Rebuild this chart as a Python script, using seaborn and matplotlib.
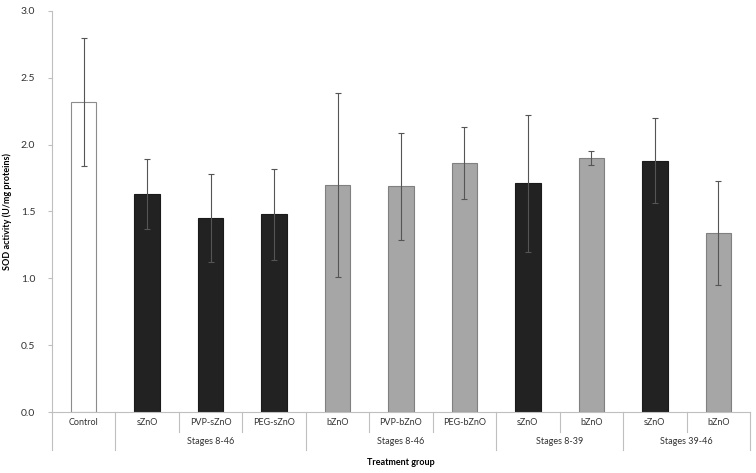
import numpy as np
import pandas as pd
import matplotlib
matplotlib.use("Agg")
import matplotlib.pyplot as plt
import seaborn as sns
from matplotlib.transforms import blended_transform_factory

# data
categories = ["Control", "sZnO", "PVP-sZnO", "PEG-sZnO", "bZnO", "PVP-bZnO",
              "PEG-bZnO", "sZnO", "bZnO", "sZnO", "bZnO"]
group_names = ["Stages 8-46", "Stages 8-46", "Stages 8-39", "Stages 39-46"]
group_spans = [(1, 3), (4, 6), (7, 8), (9, 10)]
sod_mean = [2.32, 1.63, 1.45, 1.48, 1.70, 1.69, 1.86, 1.71, 1.90, 1.88, 1.34]
sod_err = [0.48, 0.26, 0.33, 0.34, 0.69, 0.40, 0.27, 0.51, 0.05, 0.32, 0.39]
particle = ["control", "s", "s", "s", "b", "b", "b", "s", "b", "s", "b"]

fill = {"control": "#ffffff", "s": "#222222", "b": "#a6a6a6"}
edge = {"control": "#8c8c8c", "s": "#1a1a1a", "b": "#808080"}

df = pd.DataFrame({
    "key": [f"{i}_{c}" for i, c in enumerate(categories)],
    "sod": sod_mean,
    "err": sod_err,
    "kind": particle,
})

plt.rcParams["font.family"] = ["Lato", "DejaVu Sans"]
fig = plt.figure(figsize=(7.56, 4.73), dpi=100)
ax = fig.add_axes([52 / 756, 1 - 412 / 473, 698 / 756, 401 / 473])

sns.barplot(data=df, x="key", y="sod", hue="key",
            palette=[fill[k] for k in particle], legend=False,
            width=0.4, errorbar=None, ax=ax)
for patch, k in zip(ax.patches, particle):
    patch.set_edgecolor(edge[k])
    patch.set_linewidth(0.8)

ax.errorbar(np.arange(len(categories)), df["sod"], yerr=df["err"], fmt="none",
            ecolor="#555555", elinewidth=0.8, capsize=2.5, capthick=0.8, zorder=5)

ax.set_xlim(-0.5, len(categories) - 0.5)
ax.set_ylim(0, 3.0)
ax.set_yticks(np.arange(0, 3.01, 0.5))
ax.set_yticklabels([f"{v:.1f}" for v in np.arange(0, 3.01, 0.5)],
                   fontsize=7.5, color="#333333")
ax.tick_params(axis="y", length=3, color="#bfbfbf", pad=9)
ax.set_xticks([])
ax.set_xlabel("")
ax.set_ylabel("SOD activity (U/mg proteins)", fontsize=6.5, fontweight="bold",
              labelpad=6)
for s in ["top", "right"]:
    ax.spines[s].set_visible(False)
ax.spines["left"].set_color("#bfbfbf")
ax.spines["bottom"].set_color("#bfbfbf")
ax.spines["left"].set_linewidth(0.8)
ax.spines["bottom"].set_linewidth(0.8)

# two-level category axis below the plot
trans = blended_transform_factory(ax.transData, ax.transAxes)
row1 = -20 / 401
row2 = -38 / 401
line_kw = dict(color="#bfbfbf", lw=0.8, transform=trans, clip_on=False)
for i, c in enumerate(categories):
    ax.text(i, -10 / 401, c, transform=trans, ha="center", va="center",
            fontsize=6.5, color="#333333")
bounds_long = {-0.5, 0.5, 3.5, 6.5, 8.5, 10.5}
for b in np.arange(-0.5, len(categories), 1.0):
    low = row2 if b in bounds_long else row1
    ax.plot([b, b], [0, low], **line_kw)
for name, (a, b) in zip(group_names, group_spans):
    ax.text((a + b) / 2, -29 / 401, name, transform=trans, ha="center",
            va="center", fontsize=6.5, color="#333333")
ax.text(5, -50 / 401, "Treatment group", transform=trans, ha="center",
        va="center", fontsize=6.5, fontweight="bold")

fig.savefig("out.png", dpi=100)
